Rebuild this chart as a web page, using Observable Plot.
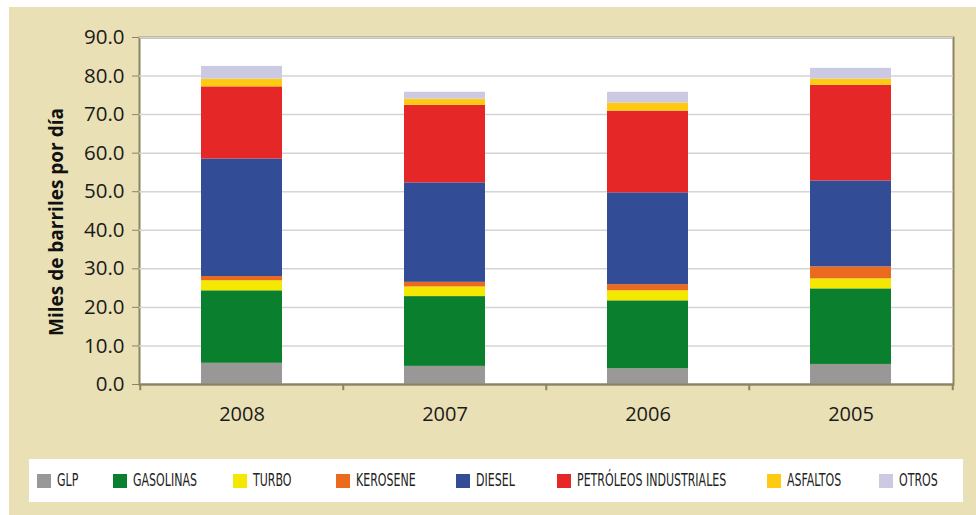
<!DOCTYPE html>
<html>
<head>
<meta charset="utf-8">
<script src="https://cdn.jsdelivr.net/npm/d3@7"></script>
<script src="https://cdn.jsdelivr.net/npm/@observablehq/plot@0.6"></script>
<style>
  html, body { margin: 0; padding: 0; background: #ffffff; }
  #wrap { position: relative; width: 976px; height: 515px; overflow: hidden; }
  #bg { position: absolute; left: 9px; top: 7px; width: 967px; height: 508px; background: #EAE0B5; }
  #chart { position: absolute; left: 0; top: 0; }
  #legend { position: absolute; left: 29px; top: 459px; width: 934px; height: 43px; background: #ffffff; }
  .item { position: absolute; top: 0; height: 43px; }
  .sw { position: absolute; top: 15px; width: 14px; height: 14px; }
  .lb { position: absolute; top: 11px; white-space: nowrap; font-family: "Liberation Sans Narrow", "DejaVu Sans Condensed", sans-serif; font-size: 17.5px; color: #222; transform: scaleX(0.7); transform-origin: left center; line-height: 20px; }
</style>
</head>
<body>
<div id="wrap">
  <div id="bg"></div>
  <div id="chart"></div>
  <div id="legend"></div>
</div>
<script>
// ---- data ----
const years = ["2008", "2007", "2006", "2005"];
const series = ["GLP", "GASOLINAS", "TURBO", "KEROSENE", "DIESEL", "PETRÓLEOS INDUSTRIALES", "ASFALTOS", "OTROS"];
const colors = ["#999897", "#0A7F2E", "#F5E800", "#EA6A1E", "#334C96", "#E52827", "#FFCB12", "#CCC9E2"];
const glp        = [5.5, 4.7, 4.1, 5.2];
const gasolinas  = [18.8, 18.1, 17.6, 19.6];
const turbo      = [2.6, 2.5, 2.6, 2.6];
const kerosene   = [1.1, 1.2, 1.6, 3.1];
const diesel     = [30.5, 25.8, 23.8, 22.3];
const petroleos  = [18.7, 20.1, 21.2, 24.8];
const asfaltos   = [2.0, 1.6, 2.1, 1.6];
const otros      = [3.3, 1.8, 2.8, 2.8];
const yTicks = [0, 10, 20, 30, 40, 50, 60, 70, 80, 90];
const yLabel = "Miles de barriles por día";

const values = [glp, gasolinas, turbo, kerosene, diesel, petroleos, asfaltos, otros];
const table = [];
series.forEach((s, i) => years.forEach((y, j) => table.push({year: y, series: s, value: values[i][j]})));

// ---- layout ----
const W = 976, H = 440;
const mL = 139, mR = 23, mT = 37, mB = 56;
const step = (W - mL - mR) / years.length;
const olive = "#8a8560";

const chart = Plot.plot({
  width: W, height: H,
  marginLeft: mL, marginRight: mR, marginTop: mT, marginBottom: mB,
  style: {background: "transparent", fontFamily: "'Open Sans', sans-serif", fontSize: "20px", color: "#1a1a1a", overflow: "visible"},
  x: {domain: years, paddingInner: 0.6, paddingOuter: 0.3, label: null},
  y: {domain: [0, 90], label: null},
  color: {domain: series, range: colors},
  marks: [
    Plot.frame({fill: "white", stroke: olive, strokeWidth: 2}),
    Plot.gridY(yTicks, {stroke: "#d4d4d4", strokeOpacity: 1, strokeWidth: 1.5}),
    Plot.barY(table, {x: "year", y: "value", fill: "series", order: series}),
    Plot.ruleY([0], {stroke: olive, strokeWidth: 2}),
    Plot.axisY(yTicks, {tickFormat: d3.format(".1f"), tickSize: 7, tickPadding: 8, stroke: olive, fill: "#1a1a1a", fontSize: 20.5}),
    Plot.axisX({tickSize: 0, tickPadding: 22, fill: "#1a1a1a", fontSize: 20}),
    Plot.ruleX(years, {x: d => d, dx: -step / 2, y1: 0, y2: -1.6, stroke: olive, strokeWidth: 2}),
    Plot.ruleX([years[years.length - 1]], {x: d => d, dx: step / 2, y1: 0, y2: -1.6, stroke: olive, strokeWidth: 2}),
    Plot.text([yLabel], {frameAnchor: "left", dx: -83, dy: 11, rotate: -90, fontWeight: "bold", fontSize: 19, fill: "#111", textAnchor: "middle"})
  ]
});
document.getElementById("chart").appendChild(chart);

// ---- legend ----
const legendX = [8, 84, 204, 307, 427, 528, 738, 850];
const legend = document.getElementById("legend");
series.forEach((s, i) => {
  const it = document.createElement("div");
  it.className = "item";
  it.style.left = legendX[i] + "px";
  const sw = document.createElement("div");
  sw.className = "sw";
  sw.style.background = colors[i];
  const lb = document.createElement("div");
  lb.className = "lb";
  lb.style.left = "20px";
  lb.textContent = s;
  it.appendChild(sw);
  it.appendChild(lb);
  legend.appendChild(it);
});
</script>
</body>
</html>
